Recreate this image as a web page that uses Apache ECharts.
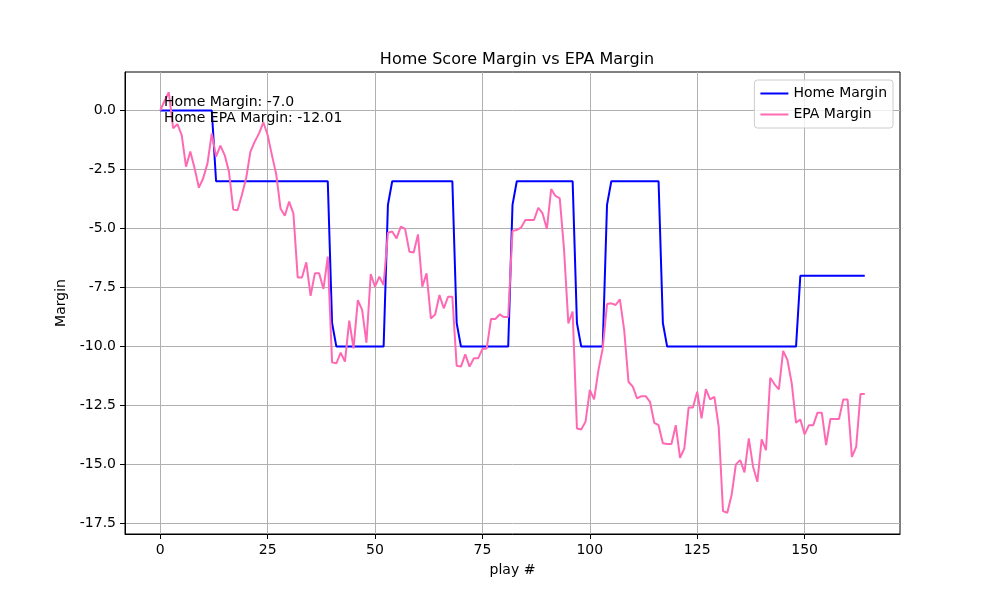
<!DOCTYPE html>
<html style="height: 100%">
<head>
    <meta charset="UTF-8">
    <title>Home Score Margin vs EPA Margin</title>
    <script src="https://cdn.jsdelivr.net/npm/echarts@6/dist/echarts.min.js"></script>
    <style>
        body { margin: 0; background: #fff; }
        #chart { width: 1000px; height: 600px; }
    </style>
</head>
<body>
    <div id="chart"></div>

    <script>
        // home score margin after each play
        var homeMargin = [
            0, 0, 0, 0, 0, 0, 0, 0, 0, 0, 0, 0, 0,
            -3, -3, -3, -3, -3, -3, -3, -3, -3, -3, -3, -3, -3, -3, -3, -3, -3, -3, -3, -3, -3, -3, -3, -3, -3, -3, -3,
            -9,
            -10, -10, -10, -10, -10, -10, -10, -10, -10, -10, -10, -10,
            -4,
            -3, -3, -3, -3, -3, -3, -3, -3, -3, -3, -3, -3, -3, -3, -3,
            -9,
            -10, -10, -10, -10, -10, -10, -10, -10, -10, -10, -10, -10,
            -4,
            -3, -3, -3, -3, -3, -3, -3, -3, -3, -3, -3, -3, -3, -3,
            -9,
            -10, -10, -10, -10, -10, -10,
            -4,
            -3, -3, -3, -3, -3, -3, -3, -3, -3, -3, -3, -3,
            -9,
            -10, -10, -10, -10, -10, -10, -10, -10, -10, -10, -10, -10, -10, -10, -10, -10,
            -10, -10, -10, -10, -10, -10, -10, -10, -10, -10, -10, -10, -10, -10, -10,
            -7, -7, -7, -7, -7, -7, -7, -7, -7, -7, -7, -7, -7, -7, -7, -7
        ];

        // EPA margin after each play
        var epaMargin = [
            0.0, 0.4, 0.77, -0.75, -0.58, -1.04, -2.38, -1.74, -2.45, -3.27,
            -2.87, -2.24, -0.97, -1.96, -1.49, -1.89, -2.59, -4.2, -4.23, -3.58,
            -2.87, -1.74, -1.32, -0.97, -0.5, -1.04, -1.89, -2.7, -4.15, -4.46,
            -3.86, -4.36, -7.07, -7.07, -6.43, -7.85, -6.9, -6.9, -7.56, -6.19,
            -10.67, -10.71, -10.26, -10.64, -8.9, -10.08, -8.03, -8.45, -9.84, -6.93,
            -7.46, -7.04, -7.39, -5.18, -5.13, -5.42, -4.92, -5.02, -5.98, -6.02,
            -5.25, -7.46, -6.9, -8.81, -8.64, -7.82, -8.38, -7.89, -7.89, -10.81,
            -10.85, -10.33, -10.85, -10.5, -10.5, -10.1, -10.08, -8.83, -8.83, -8.64,
            -8.75, -8.75, -5.1, -5.06, -4.96, -4.64, -4.64, -4.64, -4.12, -4.36,
            -5.02, -3.33, -3.62, -3.72, -5.9, -9.02, -8.52, -13.47, -13.51, -13.18,
            -11.84, -12.24, -11.0, -10.08, -8.2, -8.17, -8.24, -8.0, -9.3, -11.49,
            -11.7, -12.2, -12.1, -12.1, -12.34, -13.23, -13.33, -14.1, -14.13, -14.13,
            -13.33, -14.71, -14.31, -12.58, -12.58, -11.91, -13.04, -11.8, -12.24, -12.13,
            -13.4, -16.97, -17.04, -16.29, -14.99, -14.81, -15.33, -13.89, -15.09, -15.73,
            -13.93, -14.39, -11.32, -11.6, -11.81, -10.18, -10.57, -11.56, -13.23, -13.09,
            -13.72, -13.33, -13.33, -12.8, -12.8, -14.17, -13.07, -13.07, -13.07, -12.24,
            -12.24, -14.67, -14.25, -12.01, -12.01
        ];

        // tick labels
        var xTicks = [0, 25, 50, 75, 100, 125, 150];
        var yTicks = [0, -2.5, -5, -7.5, -10, -12.5, -15, -17.5];

        var FONT = 'DejaVu Sans';

        function toPairs(arr) {
            return arr.map(function (v, i) { return [i, v]; });
        }

        var last = homeMargin.length - 1;

        var option = {
            animation: false,
            backgroundColor: '#fff',
            textStyle: { fontFamily: FONT },
            title: {
                text: 'Home Score Margin vs EPA Margin',
                left: 512,
                top: 47,
                textAlign: 'center',
                textStyle: { fontFamily: FONT, fontSize: 16, fontWeight: 'normal', color: '#000' }
            },
            grid: {
                left: 125, right: 100, top: 72, bottom: 66,
                show: true, borderColor: '#000', borderWidth: 1
            },
            legend: {
                orient: 'vertical',
                right: 107,
                top: 80,
                padding: [6, 6, 6, 6],
                itemGap: 6,
                itemWidth: 28,
                itemHeight: 2,
                icon: 'rect',
                borderColor: '#ccc',
                borderWidth: 1,
                borderRadius: 3,
                backgroundColor: 'rgba(255,255,255,0.8)',
                textStyle: { fontFamily: FONT, fontSize: 14, color: '#000', lineHeight: 15 },
                data: ['Home Margin', 'EPA Margin']
            },
            xAxis: {
                type: 'value',
                min: -8.2,
                max: 172.2,
                name: 'play #',
                nameLocation: 'middle',
                nameGap: 29,
                nameTextStyle: { fontFamily: FONT, fontSize: 14, color: '#000' },
                axisLine: { onZero: false, lineStyle: { color: '#000' } },
                axisTick: { length: 5, lineStyle: { color: '#000' }, customValues: xTicks },
                axisLabel: { fontFamily: FONT, fontSize: 14, color: '#000', margin: 9, customValues: xTicks },
                splitLine: { show: true, lineStyle: { color: '#b0b0b0', width: 1 } }
            },
            yAxis: {
                type: 'value',
                min: -17.94,
                max: 1.63,
                name: 'Margin',
                nameLocation: 'middle',
                nameGap: 57,
                nameRotate: 90,
                nameTextStyle: { fontFamily: FONT, fontSize: 14, color: '#000' },
                axisLine: { show: true, onZero: false, lineStyle: { color: '#000' } },
                axisTick: { show: true, length: 5, lineStyle: { color: '#000' }, customValues: yTicks },
                axisLabel: {
                    fontFamily: FONT, fontSize: 14, color: '#000', margin: 9,
                    customValues: yTicks,
                    formatter: function (v) { return v.toFixed(1); }
                },
                splitLine: { show: true, lineStyle: { color: '#b0b0b0', width: 1 } }
            },
            graphic: [
                {
                    type: 'text',
                    left: 164,
                    top: 94,
                    style: {
                        text: 'Home Margin: ' + homeMargin[last].toFixed(1) + '\nHome EPA Margin: ' + epaMargin[last].toFixed(2),
                        fontFamily: FONT,
                        fontSize: 14,
                        lineHeight: 16,
                        fill: '#000'
                    },
                    z: 100
                }
            ],
            series: [
                {
                    name: 'Home Margin',
                    type: 'line',
                    data: toPairs(homeMargin),
                    symbol: 'none',
                    color: '#0000ff',
                    lineStyle: { color: '#0000ff', width: 2 }
                },
                {
                    name: 'EPA Margin',
                    type: 'line',
                    data: toPairs(epaMargin),
                    symbol: 'none',
                    color: '#ff69b4',
                    lineStyle: { color: '#ff69b4', width: 2 }
                }
            ]
        };

        var chart = echarts.init(document.getElementById('chart'));
        chart.setOption(option);
    </script>
</body>
</html>
